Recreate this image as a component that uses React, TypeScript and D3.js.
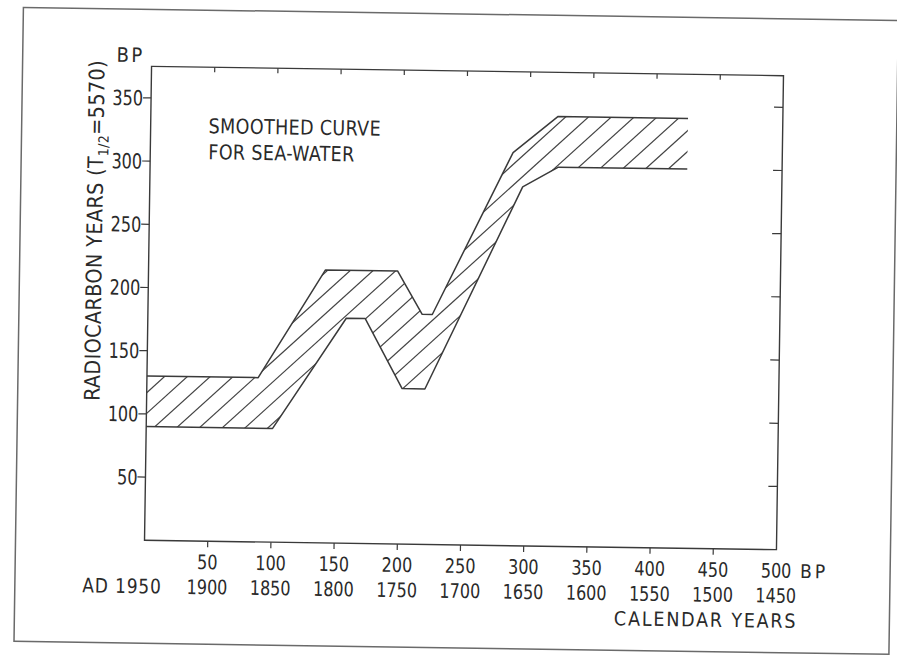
import React from "react";
import * as d3 from "d3";

// ---- data ----
const bpTicks = [50, 100, 150, 200, 250, 300, 350, 400, 450, 500];
const calendarLabels = ["1900", "1850", "1800", "1750", "1700", "1650", "1600", "1550", "1500", "1450"];
const yTicks = [50, 100, 150, 200, 250, 300, 350];

// upper boundary of smoothed sea-water band (BP calendar, radiocarbon years)
const upperX = [0, 88, 140, 197, 217, 225, 287, 322, 425];
const upperY = [130, 130, 216, 216, 182, 182, 311, 340, 340];
// lower boundary
const lowerX = [0, 100, 157, 172, 202, 220, 295, 323, 425];
const lowerY = [90, 90, 178, 178, 123, 123, 284, 300, 300];

const W = 897;
const H = 657;
const L = 148, R = 780, T = 71, B = 545;
const FONT = '"DejaVu Sans Condensed", "DejaVu Sans", sans-serif';
const INK = "#3a3a3a";

type LabelProps = {
  x: number;
  y: number;
  anchor?: "start" | "middle" | "end";
  sx?: number;
  size?: number;
  dy?: string;
  ls?: number;
  children: React.ReactNode;
};

function Label({ x, y, anchor = "start", sx = 0.85, size = 21, dy, ls = 0, children }: LabelProps) {
  return (
    <text
      transform={`translate(${x},${y}) scale(${sx},1)`}
      textAnchor={anchor}
      dy={dy}
      fontSize={size}
      fontFamily={FONT}
      fill="#2a2a2a"
      letterSpacing={ls}
    >
      {children}
    </text>
  );
}

export default function App() {
  const x = d3.scaleLinear().domain([0, 500]).range([L, R]);
  const y = d3.scaleLinear().domain([0, 375]).range([B, T]);

  const upper = upperX.map((v, i) => [x(v), y(upperY[i])] as [number, number]);
  const lower = lowerX.map((v, i) => [x(v), y(lowerY[i])] as [number, number]);
  const line = d3.line();
  const poly = [...upper, ...lower.slice().reverse()];
  const polyPath = line(poly) + "Z";

  // hatching at ~43 degrees
  const ang = (43 * Math.PI) / 180;
  const dxSpan = (B - T) / Math.tan(ang);
  const step = 22.5;
  const hatch = d3.range(L - dxSpan - 10, R + 10, step).map((x0) => [
    [x0, B],
    [x0 + dxSpan, T],
  ]);

  return (
    <svg width={W} height={H} style={{ position: "absolute", left: 0, top: 0, background: "#fff" }}>
      <g transform="rotate(0.85 464 308)">
        {/* page frame */}
        <rect x={19} y={14} width={875} height={634} fill="none" stroke="#6a6a6a" strokeWidth={1.5} />
        {/* plot frame */}
        <rect x={L} y={T} width={R - L} height={B - T} fill="none" stroke={INK} strokeWidth={1.4} />

        {/* left ticks & labels, right inner ticks */}
        {yTicks.map((v) => (
          <g key={"yl" + v}>
            <line x1={L - 8} x2={L} y1={y(v)} y2={y(v)} stroke={INK} strokeWidth={1.2} />
            <Label x={L - 8} y={y(v)} dy="0.36em" anchor="end">
              {v}
            </Label>
            <line x1={R - 9} x2={R} y1={y(v)} y2={y(v)} stroke={INK} strokeWidth={1.2} />
          </g>
        ))}
        <Label x={141} y={67} anchor="end" sx={1} size={20} ls={2.5}>BP</Label>

        {/* bottom & top ticks */}
        {bpTicks.map((v, i) => (
          <g key={"xb" + v}>
            {v < 500 && (
              <>
                <line x1={x(v)} x2={x(v)} y1={B} y2={B + 6} stroke={INK} strokeWidth={1.2} />
                <line x1={x(v)} x2={x(v)} y1={T} y2={T + 5} stroke={INK} strokeWidth={1.2} />
              </>
            )}
            <Label x={x(v)} y={573} anchor="middle" size={20} sx={0.89}>{v}</Label>
            <Label x={x(v)} y={598} anchor="middle" size={20} sx={0.89}>{calendarLabels[i]}</Label>
          </g>
        ))}
        <Label x={x(500) + 24} y={573} sx={1} size={19} ls={3}>BP</Label>
        <Label x={x(0) + 18} y={598} anchor="end" sx={0.94} size={20} ls={1}>
          AD 1950
        </Label>
        <Label x={802} y={623} anchor="end" sx={1} size={19.5} ls={1.8}>
          CALENDAR YEARS
        </Label>

        {/* y axis title */}
        <text
          transform="translate(101,236) rotate(-90)"
          textAnchor="middle"
          fontSize={21.5}
          fontFamily={FONT}
          fill="#2a2a2a"
          letterSpacing={0.3}
        >
          RADIOCARBON YEARS (T
          <tspan fontSize={14} dy={5}>1/2</tspan>
          <tspan dy={-5}>=5570)</tspan>
        </text>

        {/* annotation */}
        <Label x={206} y={137} sx={0.95} size={20.5} ls={0.4}>SMOOTHED CURVE</Label>
        <Label x={206} y={163} sx={0.95} size={20.5} ls={0.4}>FOR SEA-WATER</Label>

        {/* band */}
        <defs>
          <clipPath id="band">
            <path d={polyPath} />
          </clipPath>
        </defs>
        <g clipPath="url(#band)">
          {hatch.map((h, i) => (
            <line key={i} x1={h[0][0]} y1={h[0][1]} x2={h[1][0]} y2={h[1][1]} stroke="#444" strokeWidth={1.2} />
          ))}
        </g>
        <path d={line(upper) || ""} fill="none" stroke={INK} strokeWidth={1.5} strokeLinejoin="round" />
        <path d={line(lower) || ""} fill="none" stroke={INK} strokeWidth={1.5} strokeLinejoin="round" />
      </g>
    </svg>
  );
}
